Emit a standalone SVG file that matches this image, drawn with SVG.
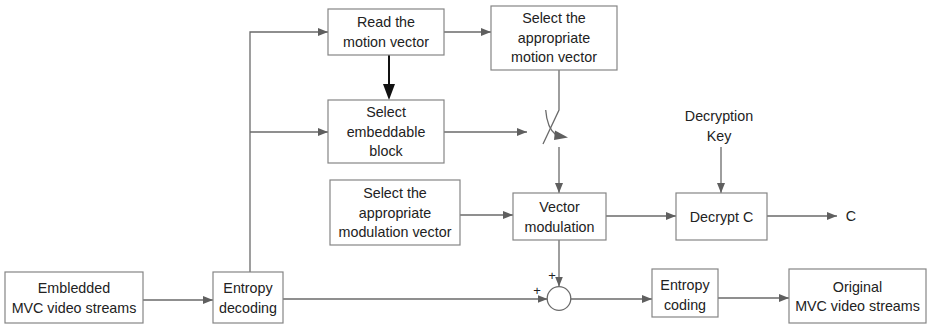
<svg xmlns="http://www.w3.org/2000/svg" width="927" height="326" viewBox="0 0 927 326">
  <style>
    .box { fill: #ffffff; stroke: #858585; stroke-width: 1.2; }
    .lbl { font-family: "Liberation Sans", Arial, sans-serif; font-size: 14.3px; fill: #222222; text-anchor: middle; }
    .wire { fill: none; stroke: #6a6a6a; stroke-width: 1.3; }
    .bold { fill: none; stroke: #111111; stroke-width: 2; }
  </style>
  <defs>
    <marker id="arr" viewBox="0 0 10 8" refX="10" refY="4" markerWidth="10" markerHeight="8" markerUnits="userSpaceOnUse" orient="auto">
      <path d="M0,0 L10,4 L0,8 Z" fill="#5f5f5f"/>
    </marker>
    <marker id="arrBig" viewBox="0 0 11 16" refX="11" refY="8" markerWidth="16" markerHeight="11" markerUnits="userSpaceOnUse" orient="auto">
      <path d="M0,0 L11,8 L0,16 Z" fill="#111111" transform="scale(1)"/>
    </marker>
  </defs>

  <!-- connectors -->
  <g id="connectors">
    <path class="wire" d="M143,300 H213" marker-end="url(#arr)"/>
    <path class="wire" d="M250,272 V32 H328" marker-end="url(#arr)"/>
    <path class="wire" d="M250,132 H328" marker-end="url(#arr)"/>
    <path class="wire" d="M444,32 H491" marker-end="url(#arr)"/>
    <path d="M389,55 V86" stroke="#111111" stroke-width="2" fill="none"/>
    <path d="M383,84 L395,84 L389,100 Z" fill="#111111"/>
    <path class="wire" d="M444,132 H527" marker-end="url(#arr)"/>
    <!-- switch -->
    <path class="wire" d="M559,63 V110 L543,144"/>
    <path class="wire" d="M545.7,110 Q547,128 556,135"/>
    <path d="M555,130.5 L568,137.5 L554,140 Z" fill="#5f5f5f"/>
    <path class="wire" d="M559,147 V193" marker-end="url(#arr)"/>
    <path class="wire" d="M460,215 H513" marker-end="url(#arr)"/>
    <path class="wire" d="M606,216 H676" marker-end="url(#arr)"/>
    <path class="wire" d="M721,147 V193" marker-end="url(#arr)"/>
    <path class="wire" d="M767,216 H837" marker-end="url(#arr)"/>
    <path class="wire" d="M559,240 V286.5" marker-end="url(#arr)"/>
    <path class="wire" d="M283,299 H547.5" marker-end="url(#arr)"/>
    <path class="wire" d="M571,299 H652" marker-end="url(#arr)"/>
    <path class="wire" d="M718,298 H789" marker-end="url(#arr)"/>
  </g>

  <g id="read-mv">
    <rect class="box" x="328" y="9" width="116" height="46"/>
    <text class="lbl" x="386" y="27">Read the</text>
    <text class="lbl" x="386" y="46.5">motion vector</text>
  </g>
  <g id="select-mv">
    <rect class="box" x="491" y="6" width="126" height="64"/>
    <text class="lbl" x="554" y="23">Select the</text>
    <text class="lbl" x="554" y="42.5">appropriate</text>
    <text class="lbl" x="554" y="62">motion vector</text>
  </g>
  <g id="select-block">
    <rect class="box" x="328" y="100" width="116" height="63"/>
    <text class="lbl" x="386" y="117">Select</text>
    <text class="lbl" x="386" y="136.5">embeddable</text>
    <text class="lbl" x="386" y="156">block</text>
  </g>
  <g id="select-modv">
    <rect class="box" x="330" y="180" width="130" height="65"/>
    <text class="lbl" x="395" y="198">Select the</text>
    <text class="lbl" x="395" y="217.5">appropriate</text>
    <text class="lbl" x="395" y="237">modulation vector</text>
  </g>
  <g id="vector-mod">
    <rect class="box" x="513" y="193" width="93" height="47"/>
    <text class="lbl" x="559.5" y="212">Vector</text>
    <text class="lbl" x="559.5" y="232">modulation</text>
  </g>
  <g id="decrypt">
    <rect class="box" x="676" y="193" width="91" height="47"/>
    <text class="lbl" x="721.5" y="222">Decrypt C</text>
  </g>
  <g id="key">
    <text class="lbl" x="719" y="121">Decryption</text>
    <text class="lbl" x="719" y="141">Key</text>
  </g>
  <g id="out-c">
    <text class="lbl" x="851" y="221">C</text>
  </g>
  <g id="embedded">
    <rect class="box" x="5" y="272" width="138" height="51"/>
    <text class="lbl" x="74" y="293">Embledded</text>
    <text class="lbl" x="74" y="313">MVC video streams</text>
  </g>
  <g id="entropy-dec">
    <rect class="box" x="213" y="272" width="70" height="51"/>
    <text class="lbl" x="248" y="293">Entropy</text>
    <text class="lbl" x="248" y="313">decoding</text>
  </g>
  <g id="adder">
    <circle cx="559" cy="298.5" r="11.8" fill="#ffffff" stroke="#6a6a6a" stroke-width="1.3"/>
    <text class="lbl" x="552" y="280" style="font-size:13px">+</text>
    <text class="lbl" x="537" y="295" style="font-size:13px">+</text>
  </g>
  <g id="entropy-cod">
    <rect class="box" x="652" y="269" width="66" height="48"/>
    <text class="lbl" x="685" y="290">Entropy</text>
    <text class="lbl" x="685" y="310">coding</text>
  </g>
  <g id="original">
    <rect class="box" x="789" y="269" width="137" height="54"/>
    <text class="lbl" x="857.5" y="291.5">Original</text>
    <text class="lbl" x="857.5" y="311">MVC video streams</text>
  </g>
</svg>
